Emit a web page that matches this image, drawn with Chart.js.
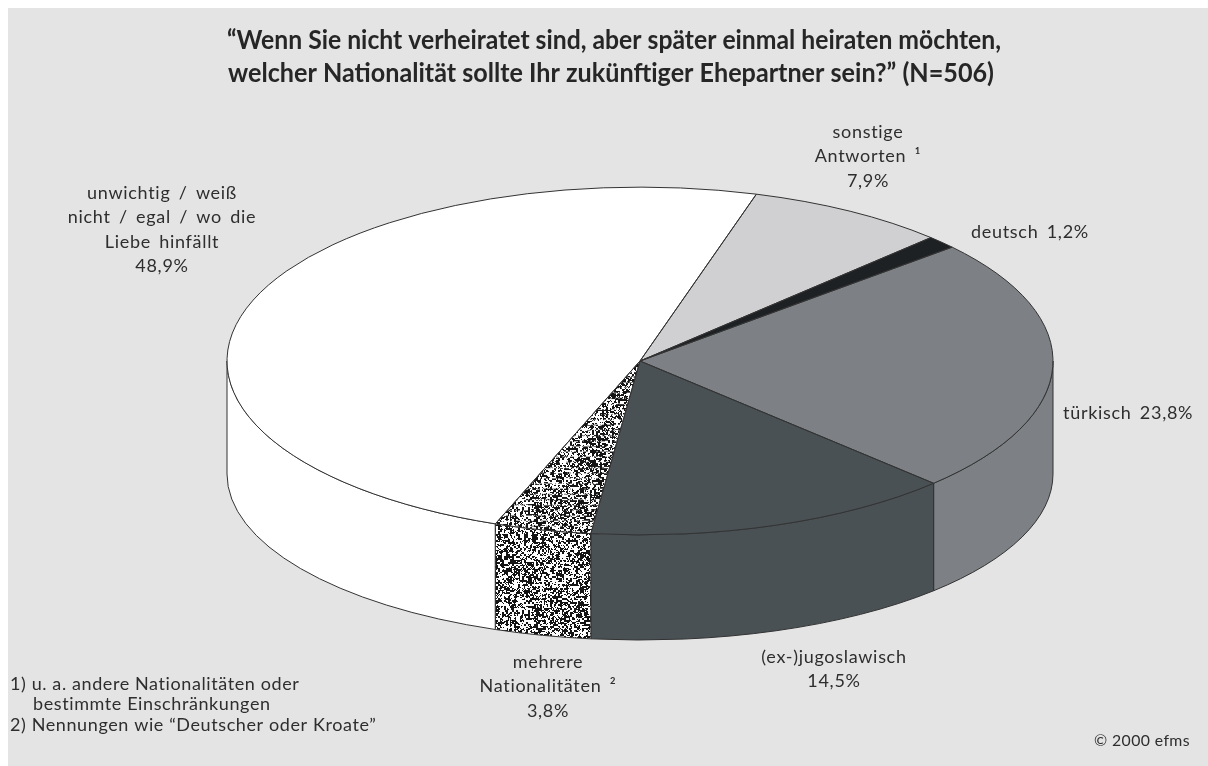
<!DOCTYPE html>
<html><head><meta charset="utf-8">
<script src="https://cdn.jsdelivr.net/npm/chart.js@4.4.1/dist/chart.umd.min.js"></script>
<style>html,body{margin:0;padding:0;background:#fff;overflow:hidden}canvas{display:block}</style>
</head><body>
<canvas id="c" width="1208" height="766"></canvas>
<script>
// ---- data ----
const categories = ['unwichtig / weiß nicht / egal / wo die Liebe hinfällt', 'sonstige Antworten ¹', 'deutsch', 'türkisch', '(ex-)jugoslawisch', 'mehrere Nationalitäten ²'];
const categoryLines = [['unwichtig / weiß', 'nicht / egal / wo die', 'Liebe hinfällt'], ['sonstige', 'Antworten ¹'], ['deutsch'], ['türkisch'], ['(ex-)jugoslawisch'], ['mehrere', 'Nationalitäten ²']];
const shares = [48.9, 7.9, 1.2, 23.8, 14.5, 3.8];
const titleLines = ['“Wenn Sie nicht verheiratet sind, aber später einmal heiraten möchten,', 'welcher Nationalität sollte Ihr zukünftiger Ehepartner sein?” (N=506)'];
const footnotes = ['1) u. a. andere Nationalitäten oder', 'bestimmte Einschränkungen', '2) Nennungen wie “Deutscher oder Kroate”'];
const credit = '© 2000 efms';

// ---- style ----
const K = 0.421;          // top face squash
const K_BOTTOM = 0.402;   // bottom rim squash (slight perspective)
const DEPTH = 113, EDGE = '#333333';
const sliceColors = ['#ffffff', '#d0d0d2', '#1e2124', '#7d8084', '#4a5155', null];
// label anchors: [x, firstLineY, align, percentInline]
const labelPos = [[162, 193, 'center', false], [868, 132, 'center', false], [971, 232, 'left', true], [1063, 413, 'left', true], [834, 657, 'center', false], [548, 662, 'center', false]];

function hash(x, y) {
  let h = (Math.imul(x, 374761393) + Math.imul(y, 668265263)) | 0;
  h = Math.imul(h ^ (h >>> 13), 1274126177);
  h = h ^ (h >>> 16);
  return (h >>> 0) / 4294967295;
}
function makeSpeckle(cw, ch) {
  const n = 128, c = document.createElement('canvas');
  c.width = n * cw; c.height = n * ch;
  const g = c.getContext('2d');
  g.fillStyle = '#ffffff'; g.fillRect(0, 0, c.width, c.height);
  g.fillStyle = '#141414';
  for (let j = 0; j < n; j++) for (let i = 0; i < n; i++) {
    const v = 0.4 * hash(i, j) + 0.6 * hash(i >> 1, (j >> 1) + 5000);
    if (v < 0.5) g.fillRect(i * cw, j * ch, cw, ch);
  }
  return g.createPattern(c, 'repeat');
}
const ctx0 = document.getElementById('c').getContext('2d');
const topSpeckle = makeSpeckle(1, 2);
const wallSpeckle = makeSpeckle(1, 1);
const bgColors = sliceColors.map(c => c || topSpeckle);
const fmt = v => v.toFixed(1).replace('.', ',') + '%';

const pie3d = {
  id: 'pie3d',
  beforeDraw(chart) {
    const ctx = chart.ctx;
    ctx.save();
    ctx.fillStyle = '#ffffff'; ctx.fillRect(0, 0, chart.width, chart.height);
    ctx.fillStyle = '#e4e4e4'; ctx.fillRect(8, 8, chart.width - 8, chart.height - 8);
    ctx.restore();
  },
  beforeDatasetsDraw(chart) {
    const ctx = chart.ctx, meta = chart.getDatasetMeta(0);
    meta.data.forEach((el, i) => {
      const p = el.getProps(['x', 'y', 'startAngle', 'endAngle', 'outerRadius'], true);
      const fill = sliceColors[i] || wallSpeckle;
      for (let n = -1; n <= 2; n++) {
        const a = Math.max(p.startAngle, 2 * Math.PI * n);
        const b = Math.min(p.endAngle, 2 * Math.PI * n + Math.PI);
        if (b <= a) continue;
        ctx.beginPath();
        ctx.ellipse(p.x, p.y, p.outerRadius, p.outerRadius * K, 0, a, b, false);
        ctx.ellipse(p.x, p.y + DEPTH, p.outerRadius, p.outerRadius * K_BOTTOM, 0, b, a, true);
        ctx.closePath();
        ctx.fillStyle = fill; ctx.fill();
        ctx.strokeStyle = EDGE; ctx.lineWidth = 1; ctx.stroke();
      }
    });
    const c = meta.data[0].getProps(['x', 'y'], true);
    ctx.save();
    ctx.translate(c.x, c.y); ctx.scale(1, K); ctx.translate(-c.x, -c.y);
  },
  afterDatasetsDraw(chart) {
    const ctx = chart.ctx, meta = chart.getDatasetMeta(0);
    ctx.restore();
    ctx.save();
    ctx.strokeStyle = EDGE; ctx.lineWidth = 1; ctx.lineJoin = 'round';
    meta.data.forEach(el => {
      const p = el.getProps(['x', 'y', 'startAngle', 'endAngle', 'outerRadius'], true);
      ctx.beginPath();
      ctx.moveTo(p.x, p.y);
      ctx.ellipse(p.x, p.y, p.outerRadius, p.outerRadius * K, 0, p.startAngle, p.endAngle, false);
      ctx.closePath();
      ctx.stroke();
    });
    ctx.restore();
  },
  afterDraw(chart) {
    const ctx = chart.ctx;
    ctx.save();
    ctx.fillStyle = '#262626';
    ctx.textBaseline = 'middle';
    // title
    ctx.textAlign = 'center';
    ctx.font = 'bold 26px Lato';
    ctx.fillText(titleLines[0], 614, 41, 774);
    ctx.fillText(titleLines[1], 611, 74, 766);
    // slice labels
    ctx.font = '18px Lato';
    ctx.letterSpacing = '0.7px';
    ctx.wordSpacing = '3px';
    ctx.fillStyle = '#2e2e2e';
    categoryLines.forEach((lines, i) => {
      const [x, y, align, inline] = labelPos[i];
      ctx.textAlign = align;
      const all = inline ? [lines[0] + ' ' + fmt(shares[i])] : lines.concat([fmt(shares[i])]);
      all.forEach((t, j) => ctx.fillText(t, x, y + j * 24.5));
    });
    // footnotes
    ctx.textAlign = 'left';
    ctx.font = '18px Lato';
    ctx.letterSpacing = '0.6px';
    ctx.wordSpacing = '0px';
    ctx.fillText(footnotes[0], 10, 684, 292);
    ctx.fillText(footnotes[1], 33, 704, 245);
    ctx.fillText(footnotes[2], 10, 725, 373);
    ctx.textAlign = 'right';
    ctx.font = '16px Lato';
    ctx.letterSpacing = '0.4px';
    ctx.fillText(credit, 1190, 741, 96);
    ctx.restore();
  }
};

new Chart(ctx0, {
  type: 'pie',
  data: {
    labels: categories,
    datasets: [{ data: shares, backgroundColor: bgColors, borderWidth: 0, radius: 413 }]
  },
  options: {
    responsive: false,
    animation: false,
    rotation: 200.5,
    layout: { padding: { left: 72, right: 0, top: 0, bottom: 44 } },
    plugins: { legend: { display: false }, tooltip: { enabled: false }, title: { display: false } },
    events: []
  },
  plugins: [pie3d]
});
</script>
</body></html>
